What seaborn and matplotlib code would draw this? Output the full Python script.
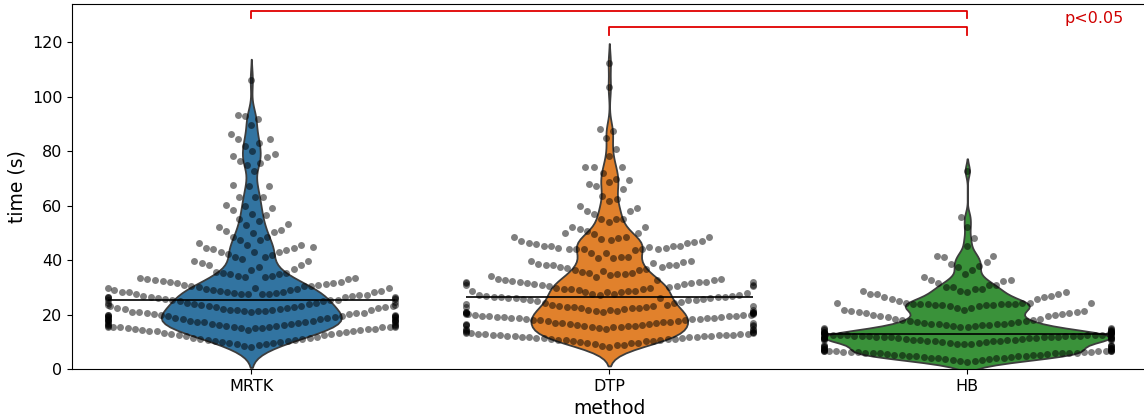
import warnings
import matplotlib
matplotlib.use('Agg')
import matplotlib.pyplot as plt
import numpy as np
import pandas as pd
import seaborn as sns

warnings.filterwarnings('ignore')

methods = ['MRTK', 'DTP', 'HB']

mrtk_time = [
    8.2, 8.6, 8.7, 9.0, 9.1, 9.4, 9.5, 9.8, 9.9, 10.2, 10.3, 10.6, 10.7, 11.0, 11.1,
    11.4, 11.5, 11.9, 12.0, 12.4, 12.5, 12.9, 13.0, 13.3, 13.4, 13.7, 13.8, 14.0, 14.1,
    14.3, 14.4, 14.5, 14.6, 14.7, 14.8, 14.9, 15.0, 15.1, 15.2, 15.3, 15.3, 15.4, 15.4,
    15.5, 15.5,
    15.3, 15.6, 15.7, 15.9, 16.0, 16.3, 16.4, 16.7, 16.8, 17.0, 17.1, 17.4, 17.5, 17.7,
    17.8, 18.0, 18.1, 18.3, 18.4, 18.6, 18.7, 18.9, 19.0, 19.2, 19.3, 19.5, 19.6, 19.8,
    19.9, 20.2, 20.3, 20.6, 20.7, 21.0, 21.1, 21.4, 21.5, 21.8, 21.9, 22.2, 22.3, 22.6,
    22.7, 23.2, 23.4,
    15.8, 15.9, 16.2, 16.1, 16.6, 16.7, 17.4, 17.3, 17.8, 17.9, 18.2, 18.1, 19.0, 19.1,
    19.5, 19.4, 19.9, 19.8, 20.8, 20.7, 21.2, 21.3, 21.6, 21.5,
    22.0, 22.4, 22.5, 22.9, 23.0, 23.4, 23.5, 23.9, 24.0, 24.4, 24.5, 24.8, 24.9, 25.2,
    25.3, 25.6, 25.7, 25.9, 26.0, 26.2, 26.3, 26.5, 26.6, 26.8, 26.9, 27.1, 27.2, 27.4,
    27.5, 27.7, 27.8, 28.0, 28.1, 28.3, 28.4, 28.6, 28.7, 29.0, 29.1, 29.4, 29.5, 29.9,
    30.0, 30.6, 30.8,
    23.2, 23.3, 24.3, 24.2, 25.4, 25.5, 26.5, 26.4, 27.5, 27.6, 28.3, 28.2,
    29.0, 29.6, 29.7, 30.3, 30.4, 31.0, 31.1, 31.5, 31.6, 31.9, 32.0, 32.4, 32.5, 32.9,
    33.0, 33.3, 33.4, 33.7, 33.8, 34.2, 34.3, 34.7, 34.8, 35.2, 35.3,
    35.7, 36.5, 36.6, 37.3, 38.0, 38.1, 38.8, 39.6, 39.7, 40.4, 41.2,
    41.3, 42.0, 42.1, 43.0, 43.1, 44.5, 44.8,
    43.0, 43.8, 43.9, 44.6, 45.5, 45.6, 46.4, 47.4, 47.5, 48.5, 48.6, 50.5,
    51.0,
    50.0, 50.4, 52.0, 52.7, 53.3, 54.4, 54.9, 56.6, 57.0, 58.2, 59.2, 59.7, 60.3, 63.2,
    63.2, 63.2, 67.2, 67.3, 67.6, 72.8, 75.0, 75.8, 76.3, 77.9, 78.2, 78.9, 80.1, 81.8,
    82.8, 84.4, 84.5, 86.2, 89.5, 91.6, 92.8, 93.1, 106.1,
]

dtp_time = [
    8.2, 8.6, 8.7, 8.9, 9.0, 9.4, 9.5, 9.7, 9.8, 10.1, 10.2, 10.4, 10.5, 10.8, 10.8,
    10.9, 11.0, 11.1, 11.2, 11.4, 11.5, 11.6, 11.7, 11.9, 11.9, 12.0, 12.1, 12.2, 12.2,
    12.3, 12.4, 12.4, 12.5, 12.6, 12.7, 12.8, 12.9, 13.0, 13.1, 13.2, 13.3, 13.5, 13.6,
    13.7, 13.8,
    14.3, 14.4, 14.6, 14.7, 14.8, 14.9, 15.3, 15.4, 15.8, 15.9, 16.1, 16.2, 16.3, 16.4,
    16.8, 16.9,
    15.3, 15.7, 15.8, 16.0, 16.1, 16.5, 16.6, 16.9, 17.0, 17.3, 17.4, 17.6, 17.7, 17.9,
    18.0, 18.1, 18.2, 18.3, 18.4, 18.6, 18.7, 18.8, 18.9, 19.0, 19.1, 19.2, 19.3, 19.4,
    19.5, 19.6, 19.7, 19.8, 19.9, 20.1, 20.2, 20.3, 20.4, 20.5, 20.6, 20.7, 20.8, 20.9,
    21.0, 21.0, 21.1,
    21.3, 21.4, 21.6, 21.7, 21.8, 21.9, 22.3, 22.4, 22.8, 22.9, 23.3, 23.4,
    22.5, 22.7, 22.8, 23.0, 23.1, 23.6, 23.7, 24.2, 24.3, 24.7, 24.8, 25.2, 25.3, 25.5,
    25.6, 25.8, 25.9, 26.0, 26.1, 26.2, 26.3, 26.4, 26.5, 26.6, 26.7, 26.9, 27.0, 27.2,
    27.3, 27.6, 27.7, 28.0, 28.1, 28.2, 28.3, 28.5, 28.6, 28.8, 28.9, 29.2, 29.3, 31.2,
    31.0, 32.0, 31.7, 31.8, 31.9,
    29.4, 29.8, 29.9, 30.2, 30.3, 30.5, 30.6, 30.9, 31.0, 31.3, 31.4, 31.7, 31.8, 32.1,
    32.2, 32.5, 32.6, 32.8, 32.9, 33.2, 33.6, 34.0, 34.4, 34.8,
    34.9, 35.2, 35.3, 35.7, 35.8, 36.5, 36.6, 38.0, 38.2,
    36.5, 37.0, 37.5, 37.6, 38.0, 38.1, 38.5, 39.0, 39.1, 39.7, 39.8, 40.6,
    40.7, 41.2, 41.3, 42.5, 42.6, 44.0, 44.1, 45.0, 45.1, 47.0, 46.4,
    43.6, 43.9, 44.0, 44.2, 44.3, 44.6, 44.7, 45.2, 45.3, 46.0, 46.1, 46.8, 46.9, 47.5,
    47.6, 48.0, 48.3,
    48.4, 48.6, 49.4, 49.8, 50.0, 50.6, 51.4, 52.2, 52.3, 54.1, 54.9, 55.2, 55.2, 56.9,
    58.0, 58.0, 59.0, 59.9, 61.5, 62.5, 63.5, 65.9, 67.2, 67.9, 68.6, 69.5, 69.8, 71.8,
    74.1, 74.1, 74.2, 78.3, 80.7, 84.7, 87.5, 88.2, 103.4, 112.4,
]

hb_time = [
    2.7, 3.0, 3.0, 3.3, 3.3, 3.6, 3.6, 3.9, 3.9, 4.1, 4.1, 4.3, 4.3, 4.6, 4.6, 4.8, 4.8,
    5.1, 5.1, 5.3, 5.3, 5.5, 5.5, 5.7, 5.7, 5.8, 5.8, 5.9, 6.0, 6.0, 6.1, 6.1, 6.2, 6.3,
    6.3, 6.5, 6.5, 6.6, 6.6, 6.6, 6.7, 6.7, 6.7, 6.8, 6.8,
    6.9, 6.9, 7.3, 7.3, 7.7, 7.7, 8.1, 8.1, 8.5, 8.5, 8.9, 8.9, 9.3, 9.3, 9.7, 9.7,
    10.1, 10.1, 10.5, 10.5, 10.9, 10.9, 11.3, 11.3, 11.7, 11.7, 12.1, 12.1, 7.5, 8.3,
    9.1, 9.9,
    10.0, 10.3, 10.3, 10.6, 10.6, 10.8, 10.8, 11.0, 11.0, 11.2, 11.2, 11.3, 11.3, 11.45,
    11.45, 11.6, 11.6, 11.75, 11.75, 11.9, 11.9, 12.0, 12.0, 12.1, 12.1, 12.25, 12.25,
    12.4, 12.4, 12.5, 12.5, 12.65, 12.65, 12.8, 12.8, 13.0, 13.0, 13.1, 13.1, 13.3, 13.3,
    13.5, 13.5, 13.7, 13.7,
    13.4, 13.4, 13.8, 13.8, 14.2, 14.2, 14.6, 14.6, 15.0, 15.0, 15.4, 15.4, 15.8, 15.8,
    16.1, 16.1,
    16.3, 16.5, 16.5, 16.7, 16.7, 17.0, 17.0, 17.3, 17.3, 17.6, 17.6, 18.0, 18.0, 18.5,
    18.5, 19.0, 19.5, 19.5, 19.9, 19.9, 20.3, 20.7, 20.7, 21.0, 21.0, 21.3,
    21.3, 21.7, 21.7, 22.3, 22.3, 23.0, 23.0, 24.2, 23.6,
    23.4, 23.5, 23.5, 23.7, 23.7, 23.8, 23.8, 23.9, 23.9, 24.1, 24.1, 24.3, 24.3, 25.0,
    25.8, 25.8, 26.3, 26.3, 26.8, 27.4, 27.4, 28.1, 28.1, 28.7, 28.7, 29.4,
    29.2, 30.0,
    27.5, 30.2, 30.8, 30.8, 31.4, 32.4, 32.7, 32.7, 33.9, 34.9, 36.4, 37.3, 37.9, 38.5,
    39.1, 41.2, 41.6, 41.6, 45.0, 48.0, 52.3, 55.9, 72.8,
]

# significance brackets: (from, to, height)
brackets = [(0, 2, 131.4), (1, 2, 125.5)]
sig_text = 'p<0.05'

df = pd.DataFrame({
    'method': ['MRTK'] * len(mrtk_time) + ['DTP'] * len(dtp_time) + ['HB'] * len(hb_time),
    'time': mrtk_time + dtp_time + hb_time,
})

fig = plt.figure(figsize=(11.44, 4.19), dpi=100)
ax = fig.add_axes([72.3 / 1144, 50 / 419, 1074 / 1144, 365 / 419])

sns.violinplot(data=df, x='method', y='time', hue='method', order=methods,
               inner=None, legend=False, common_norm=True, bw_adjust=0.6,
               linewidth=1.3, ax=ax)
sns.swarmplot(data=df, x='method', y='time', order=methods, color='k',
              alpha=0.5, size=5, ax=ax)
sns.boxplot(data=df, x='method', y='time', order=methods, width=0.8,
            showbox=False, showcaps=False, showfliers=False,
            whiskerprops={'visible': False}, linecolor='k', linewidth=1,
            medianprops={'color': 'k', 'linewidth': 1.2}, ax=ax)

# lay the swarm out on a squashed y scale, then freeze it
swarms = [c for c in ax.collections if 'draw' in vars(c)]
ax.set_ylim(0, 373)
fig.canvas.draw()
for c in swarms:
    del c.draw
ax.set_ylim(0, 134)
ax.set_xlim(-0.5, 2.5)

for x0, x1, h in brackets:
    ax.plot([x0, x0, x1, x1], [h - 2.7, h, h, h - 2.7], color='#e00000', lw=1.3)
ax.text(2.355, 128.5, sig_text, color='#d00000', fontsize=11.5, ha='center', va='center')

ax.set_xlabel('method', fontsize=13.5)
ax.set_ylabel('time (s)', fontsize=13.5)
ax.tick_params(labelsize=11.5)

fig.savefig('out.png', dpi=100)
